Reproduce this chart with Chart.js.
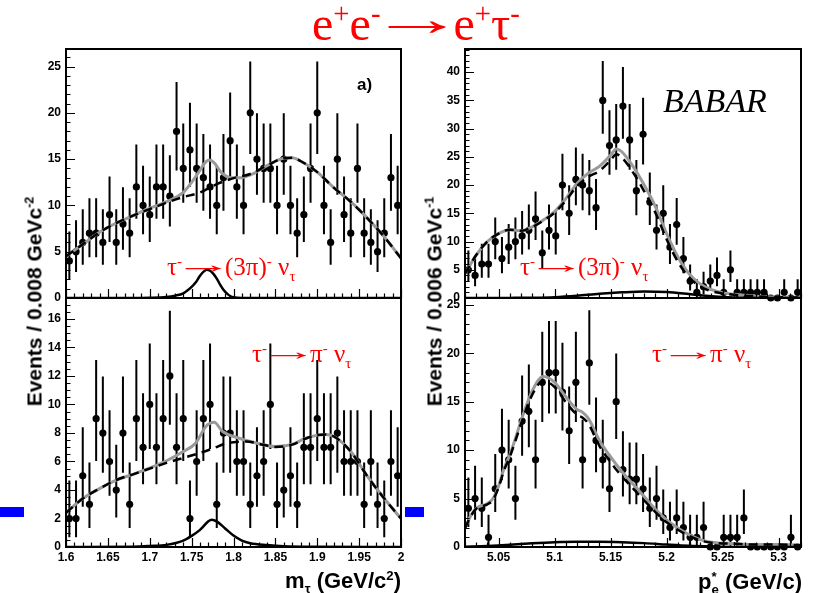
<!DOCTYPE html>
<html>
<head>
<meta charset="utf-8">
<script src="https://cdn.jsdelivr.net/npm/chart.js@4.4.1/dist/chart.umd.min.js"></script>
<style>
  html, body { margin: 0; padding: 0; background: #fff; }
  #page { position: relative; width: 816px; height: 593px; overflow: hidden; background: #fff; }
  canvas { position: absolute; left: 0; top: 0; }
  .lbl { position: absolute; white-space: nowrap; line-height: 1; }
  .red { color: #ff0000; font-family: 'Liberation Serif', 'DejaVu Serif', serif; }
  .ax { font-family: 'Liberation Sans', Arial, sans-serif; font-weight: bold; color: #000; }
  .arr { display: inline-block; position: relative; top: -0.1em; transform: scaleX(2.0); margin: 0 0.26em; }
  .arr2 { display: inline-block; position: relative; top: -0.08em; transform: scaleX(2.4); margin: 0 0.36em; }
  sup, sub { font-size: 60%; line-height: 0; }
  .blue { position: absolute; background: #0000ff; }
</style>
</head>
<body>
<div id="page">
  <canvas id="tl" width="816" height="593"></canvas>
  <canvas id="bl" width="816" height="593"></canvas>
  <canvas id="tr" width="816" height="593"></canvas>
  <canvas id="br" width="816" height="593"></canvas>

  <div class="blue" style="left:0;top:507px;width:24px;height:10px"></div>
  <div class="blue" style="left:405px;top:507px;width:19px;height:10px"></div>

  <div class="lbl red" style="left:312px;top:0;font-size:48px">e<sup>+</sup>e<sup>-</sup><span class="arr">→</span>e<sup>+</sup>τ<sup>-</sup></div>

  <div class="lbl ax" style="left:357px;top:76px;font-size:17px">a)</div>
  <div class="lbl" style="left:663px;top:84px;font-size:34px;font-style:italic;font-family:'Liberation Serif',serif">BABAR</div>

  <div class="lbl red" style="left:167px;top:254px;font-size:25px">τ<sup>-</sup><span class="arr2">→</span>(3π)<sup>-</sup> ν<sub>τ</sub></div>
  <div class="lbl red" style="left:520px;top:254px;font-size:25px">τ<sup>-</sup><span class="arr2">→</span>(3π)<sup>-</sup> ν<sub>τ</sub></div>
  <div class="lbl red" style="left:252px;top:341px;font-size:25px">τ<sup>-</sup><span class="arr2">→</span>π<sup>-</sup> ν<sub>τ</sub></div>
  <div class="lbl red" style="left:652px;top:341px;font-size:25px">τ<sup>-</sup><span class="arr2">→</span>π<sup>-</sup> ν<sub>τ</sub></div>

  <div class="lbl ax" style="right:415px;top:570px;font-size:22px">m<sub>τ</sub> (GeV/c<sup>2</sup>)</div>
  <div class="lbl ax" style="right:14px;top:570px;font-size:22px">p<span style="display:inline-block;vertical-align:-5px;font-size:60%;line-height:1;text-align:left"><span style="display:block">*</span><span style="display:block">e</span></span> (GeV/c)</div>

  <div class="lbl ax" style="left:-116px;top:291px;width:300px;text-align:center;font-size:21px;transform:rotate(-90deg)">Events / 0.008 GeVc<sup>-2</sup></div>
  <div class="lbl ax" style="left:284px;top:291px;width:300px;text-align:center;font-size:21px;transform:rotate(-90deg)">Events / 0.006 GeVc<sup>-1</sup></div>
</div>

<script>
// histogram ranges (50 bins each)
const massRange = [1.6, 2.0];
const pRange = [5.02, 5.32];

// event counts per bin
const massCounts3pi = [4, 5, 6, 7, 7, 6, 9, 6, 8, 7, 12, 10, 9, 12, 12, 11, 18, 14, 16, 14,
  13, 12, 10, 13, 17, 12, 10, 20, 15, 14, 14, 10, 15, 10, 7, 9, 14, 20, 10, 6,
  15, 9, 7, 14, 7, 6, 5, 7, 13, 10];
const massCountsPi = [2, 2, 5, 3, 9, 8, 6, 4, 8, 3, 9, 7, 10, 7, 9, 12, 7, 9, 2, 6,
  9, 10, 3, 8, 8, 6, 6, 3, 5, 6, 10, 3, 4, 5, 3, 7, 7, 9, 7, 7,
  8, 6, 6, 6, 3, 6, 3, 2, 6, 5];
const pCounts3pi = [5, 4, 6, 6, 10, 7, 9, 10, 11, 12, 14, 8, 12, 11, 20, 15, 21, 20, 19, 16,
  35, 27, 28, 34, 28, 19, 29, 17, 12, 15, 9, 13, 7, 3, 1, 2, 3, 4, 1, 5,
  1, 1, 1, 1, 1, 0, 0, 1, 0, 1];
const pCountsPi = [4, 5, 4, 1, 6, 10, 9, 5, 13, 14, 9, 17, 18, 18, 16, 12, 17, 9, 19, 11,
  9, 6, 15, 8, 7, 7, 6, 4, 5, 3, 2, 3, 2, 1, 1, 2, 0, 0, 1, 1,
  1, 3, 0, 0, 0, 0, 0, 0, 1, 0];

// fit curves: total (grey), background (dashed), signal (solid)
const tlTotX = [1.60, 1.62, 1.64, 1.66, 1.68, 1.70, 1.72, 1.74, 1.75, 1.76, 1.765, 1.771, 1.777, 1.785, 1.797, 1.809, 1.825, 1.84, 1.86, 1.87, 1.88, 1.90, 1.92, 1.94, 1.96, 1.98, 2.00];
const tlTotY = [4.5, 5.8, 7.1, 8.1, 8.9, 9.7, 10.4, 11.4, 12.5, 13.8, 14.5, 14.9, 14.6, 13.6, 13.0, 13.0, 13.5, 14.3, 15.1, 15.15, 14.8, 13.6, 11.9, 10.4, 8.6, 6.6, 4.3];
const tlBgX = [1.60, 1.62, 1.64, 1.66, 1.68, 1.70, 1.72, 1.74, 1.76, 1.78, 1.80, 1.82, 1.84, 1.86, 1.87, 1.88, 1.90, 1.92, 1.94, 1.96, 1.98, 2.00];
const tlBgY = [4.5, 5.8, 7.1, 8.1, 8.9, 9.6, 10.3, 10.9, 11.4, 12.3, 12.95, 13.4, 14.3, 15.1, 15.15, 14.8, 13.6, 11.9, 10.4, 8.6, 6.6, 4.3];
const tlSigX = [1.60, 1.68, 1.70, 1.72, 1.73, 1.74, 1.75, 1.755, 1.76, 1.765, 1.768, 1.772, 1.776, 1.78, 1.784, 1.788, 1.792, 1.796, 1.80, 1.81, 2.00];
const tlSigY = [0, 0, 0.03, 0.12, 0.25, 0.5, 1.2, 1.7, 2.4, 2.9, 3.05, 2.95, 2.6, 2.1, 1.45, 0.9, 0.5, 0.22, 0.08, 0, 0];

const blTotX = [1.60, 1.62, 1.64, 1.66, 1.68, 1.70, 1.72, 1.74, 1.755, 1.767, 1.777, 1.787, 1.803, 1.827, 1.85, 1.87, 1.885, 1.90, 1.91, 1.92, 1.94, 1.96, 1.98, 2.00];
const blTotY = [2.4, 3.4, 4.1, 4.7, 5.1, 5.55, 6.05, 6.7, 7.3, 8.46, 8.75, 8.1, 7.7, 7.3, 7.05, 7.2, 7.6, 7.85, 7.9, 7.75, 6.7, 4.95, 3.4, 2.0];
const blBgX = [1.60, 1.62, 1.64, 1.66, 1.68, 1.70, 1.72, 1.74, 1.76, 1.775, 1.79, 1.80, 1.815, 1.835, 1.85, 1.87, 1.885, 1.90, 1.91, 1.92, 1.94, 1.96, 1.98, 2.00];
const blBgY = [2.4, 3.4, 4.1, 4.7, 5.1, 5.5, 5.9, 6.25, 6.6, 6.9, 7.25, 7.35, 7.4, 7.18, 7.02, 7.18, 7.58, 7.85, 7.9, 7.75, 6.7, 4.95, 3.4, 2.0];
const blSigX = [1.60, 1.68, 1.70, 1.72, 1.74, 1.75, 1.76, 1.77, 1.774, 1.78, 1.79, 1.80, 1.81, 1.82, 1.84, 1.86, 1.90, 2.00];
const blSigY = [0, 0.02, 0.07, 0.15, 0.45, 0.78, 1.2, 1.8, 1.92, 1.8, 1.3, 0.8, 0.45, 0.27, 0.14, 0.06, 0.02, 0];

const trTotX = [5.02, 5.03, 5.04, 5.05, 5.06, 5.07, 5.08, 5.09, 5.10, 5.11, 5.12, 5.13, 5.14, 5.15, 5.155, 5.16, 5.17, 5.18, 5.19, 5.20, 5.21, 5.22, 5.23, 5.24, 5.25, 5.26, 5.28, 5.30, 5.32];
const trTotY = [4.3, 7.6, 10.0, 11.4, 12.1, 11.9, 12.6, 13.8, 15.3, 17.6, 20.3, 22.1, 23.3, 25.3, 26.4, 25.9, 23.3, 20.0, 16.2, 11.4, 7.3, 4.3, 2.5, 1.5, 0.95, 0.65, 0.3, 0.15, 0.1];
const trBgY = [4.3, 7.6, 10.0, 11.4, 12.1, 11.9, 12.55, 13.7, 15.1, 17.25, 19.8, 21.45, 22.5, 24.4, 25.45, 24.9, 22.25, 18.9, 15.1, 10.4, 6.45, 3.65, 2.05, 1.2, 0.8, 0.57, 0.28, 0.15, 0.1];
const trSigX = [5.02, 5.06, 5.08, 5.10, 5.12, 5.14, 5.16, 5.18, 5.20, 5.22, 5.24, 5.26, 5.28, 5.32];
const trSigY = [0, 0.02, 0.05, 0.15, 0.4, 0.75, 1.0, 1.15, 1.05, 0.7, 0.3, 0.08, 0.02, 0];

const brTotX = [5.02, 5.025, 5.03, 5.04, 5.045, 5.05, 5.055, 5.06, 5.065, 5.07, 5.08, 5.09, 5.10, 5.11, 5.12, 5.125, 5.13, 5.14, 5.15, 5.16, 5.17, 5.18, 5.19, 5.20, 5.21, 5.22, 5.23, 5.24, 5.26, 5.28, 5.30, 5.32];
const brTotY = [1.96, 3.2, 4.0, 4.5, 5.0, 6.3, 8.15, 9.5, 11.2, 13.0, 16.1, 17.6, 17.0, 15.5, 14.2, 13.9, 13.3, 11.0, 9.3, 7.8, 6.5, 5.2, 3.9, 2.8, 1.96, 1.27, 0.76, 0.5, 0.35, 0.25, 0.25, 0.17];
const brBgY = [1.93, 3.15, 3.95, 4.4, 4.85, 6.15, 7.95, 9.3, 10.95, 12.7, 15.7, 17.15, 16.5, 14.95, 13.65, 13.35, 12.75, 10.45, 8.75, 7.3, 6.05, 4.8, 3.6, 2.55, 1.78, 1.15, 0.68, 0.45, 0.34, 0.25, 0.25, 0.17];
const brSigX = [5.02, 5.04, 5.06, 5.08, 5.10, 5.12, 5.14, 5.16, 5.18, 5.20, 5.22, 5.24, 5.26, 5.32];
const brSigY = [0.03, 0.1, 0.22, 0.38, 0.5, 0.55, 0.55, 0.5, 0.4, 0.25, 0.12, 0.05, 0.01, 0];

// tick labels
const massTicks = [1.6, 1.65, 1.7, 1.75, 1.8, 1.85, 1.9, 1.95, 2.0];
const pTicks = [5.05, 5.1, 5.15, 5.2, 5.25, 5.3];
const tlYTicks = [0, 5, 10, 15, 20, 25];
const blYTicks = [0, 2, 4, 6, 8, 10, 12, 14, 16];
const trYTicks = [0, 5, 10, 15, 20, 25, 30, 35, 40];
const brYTicks = [0, 5, 10, 15, 20, 25];

const W = 816, H = 593, Y_W = 40;
const FONT = "'Liberation Sans', Arial, sans-serif";

function binCenters(range, n) {
    const w = (range[1] - range[0]) / n;
    return Array.from({ length: n }, (_, i) => range[0] + w * (i + 0.5));
}

// Poisson (Gehrels) intervals, as drawn by ROOT for event counts
function poisson(n) {
    return [n - Math.sqrt(n - 0.25), n + 1 + Math.sqrt(n + 0.75)];
}

function xy(xs, ys) {
    return xs.map((x, i) => ({ x: x, y: ys[i] }));
}

// ROOT-like frame with inward ticks
const framePlugin = {
    id: 'frame',
    afterDraw(chart, args, o) {
        const { ctx, chartArea: a, scales } = chart;
        const x = scales.x, y = scales.y;
        const isMajor = (v, m) => Math.abs(v / m - Math.round(v / m)) < 1e-6;
        ctx.save();
        ctx.strokeStyle = '#000';
        ctx.lineWidth = 1.2;
        ctx.beginPath();
        for (let k = Math.ceil(x.min / o.xMinor - 1e-6); k * o.xMinor <= x.max + 1e-9; k++) {
            const v = k * o.xMinor;
            const px = Math.round(x.getPixelForValue(v)) + 0.5;
            const len = isMajor(v, o.xMajor) ? 9 : 4.5;
            ctx.moveTo(px, a.bottom);
            ctx.lineTo(px, a.bottom - len);
        }
        for (let k = Math.ceil(y.min / o.yMinor - 1e-6); k * o.yMinor <= y.max + 1e-9; k++) {
            const v = k * o.yMinor;
            const py = Math.round(y.getPixelForValue(v)) + 0.5;
            const len = isMajor(v, o.yMajor) ? 9 : 4.5;
            ctx.moveTo(a.left, py);
            ctx.lineTo(a.left + len, py);
        }
        ctx.stroke();
        ctx.lineWidth = 2;
        ctx.strokeRect(a.left, a.top, a.right - a.left, a.bottom - a.top);
        ctx.restore();
    }
};

function buildPanel(p) {
    const centers = binCenters(p.range, p.counts.length);
    const pts = p.counts.map((n, i) => ({ x: centers[i], y: n }));
    const bars = [];
    p.counts.forEach((n, i) => {
        if (n <= 0) {
            return;
        }
        const [lo, hi] = poisson(n);
        bars.push({ x: centers[i], y: lo }, { x: centers[i], y: hi }, { x: centers[i], y: null });
    });
    const xh = p.xLabels ? 20 : 0;
    const [L, T, R, B] = p.area;

    return new Chart(document.getElementById(p.id), {
        type: 'scatter',
        data: {
            datasets: [
                { type: 'line', data: bars, borderColor: '#000', borderWidth: 2, pointRadius: 0, spanGaps: false, tension: 0, order: 5 },
                { type: 'scatter', data: pts, pointRadius: 3.6, pointHoverRadius: 3.6, backgroundColor: '#000', borderWidth: 0, clip: false, order: 4 },
                { type: 'line', data: xy(p.tot[0], p.tot[1]), borderColor: '#9a9a9a', borderWidth: 3, pointRadius: 0, cubicInterpolationMode: 'monotone', order: 3 },
                { type: 'line', data: xy(p.bg[0], p.bg[1]), borderColor: '#000', borderWidth: 2.5, borderDash: [9, 6], pointRadius: 0, cubicInterpolationMode: 'monotone', order: 2 },
                { type: 'line', data: xy(p.sig[0], p.sig[1]), borderColor: '#000', borderWidth: 2.5, pointRadius: 0, cubicInterpolationMode: 'monotone', order: 1 },
            ]
        },
        options: {
            responsive: false,
            animation: false,
            events: [],
            layout: {
                autoPadding: false,
                padding: { left: L - Y_W, top: T, right: W - R, bottom: H - B - xh }
            },
            plugins: {
                legend: { display: false },
                tooltip: { enabled: false },
                frame: p.frame
            },
            scales: {
                x: {
                    type: 'linear',
                    min: p.range[0],
                    max: p.range[1],
                    grid: { display: false, drawTicks: false },
                    border: { display: false },
                    ticks: {
                        display: p.xLabels,
                        color: '#000',
                        padding: 3,
                        maxRotation: 0,
                        autoSkip: false,
                        font: { family: FONT, size: 12, weight: 'bold' },
                        callback: (v) => String(+Number(v).toFixed(2))
                    },
                    afterBuildTicks: (s) => { s.ticks = p.xTicks.map((v) => ({ value: v })); },
                    afterFit: (s) => { s.height = xh; }
                },
                y: {
                    type: 'linear',
                    min: 0,
                    max: p.yMax,
                    grid: { display: false, drawTicks: false },
                    border: { display: false },
                    ticks: {
                        color: '#000',
                        padding: 5,
                        autoSkip: false,
                        font: { family: FONT, size: 12, weight: 'bold' },
                        callback: (v) => String(v)
                    },
                    afterBuildTicks: (s) => { s.ticks = p.yTicks.map((v) => ({ value: v })); },
                    afterFit: (s) => { s.width = Y_W; }
                }
            }
        },
        plugins: [framePlugin]
    });
}

buildPanel({
    id: 'tl', area: [66, 49, 401, 298], range: massRange, yMax: 26.9, counts: massCounts3pi,
    xTicks: massTicks, yTicks: tlYTicks, xLabels: false,
    tot: [tlTotX, tlTotY], bg: [tlBgX, tlBgY], sig: [tlSigX, tlSigY],
    frame: { xMinor: 0.01, xMajor: 0.05, yMinor: 1, yMajor: 5 }
});
buildPanel({
    id: 'bl', area: [66, 298, 401, 547], range: massRange, yMax: 17.47, counts: massCountsPi,
    xTicks: massTicks, yTicks: blYTicks, xLabels: true,
    tot: [blTotX, blTotY], bg: [blBgX, blBgY], sig: [blSigX, blSigY],
    frame: { xMinor: 0.01, xMajor: 0.05, yMinor: 0.5, yMajor: 2 }
});
buildPanel({
    id: 'tr', area: [465, 49, 801, 298], range: pRange, yMax: 44.1, counts: pCounts3pi,
    xTicks: pTicks, yTicks: trYTicks, xLabels: false,
    tot: [trTotX, trTotY], bg: [trTotX, trBgY], sig: [trSigX, trSigY],
    frame: { xMinor: 0.01, xMajor: 0.05, yMinor: 1, yMajor: 5 }
});
buildPanel({
    id: 'br', area: [465, 298, 801, 547], range: pRange, yMax: 25.7, counts: pCountsPi,
    xTicks: pTicks, yTicks: brYTicks, xLabels: true,
    tot: [brTotX, brTotY], bg: [brTotX, brBgY], sig: [brSigX, brSigY],
    frame: { xMinor: 0.01, xMajor: 0.05, yMinor: 1, yMajor: 5 }
});
</script>
</body>
</html>
